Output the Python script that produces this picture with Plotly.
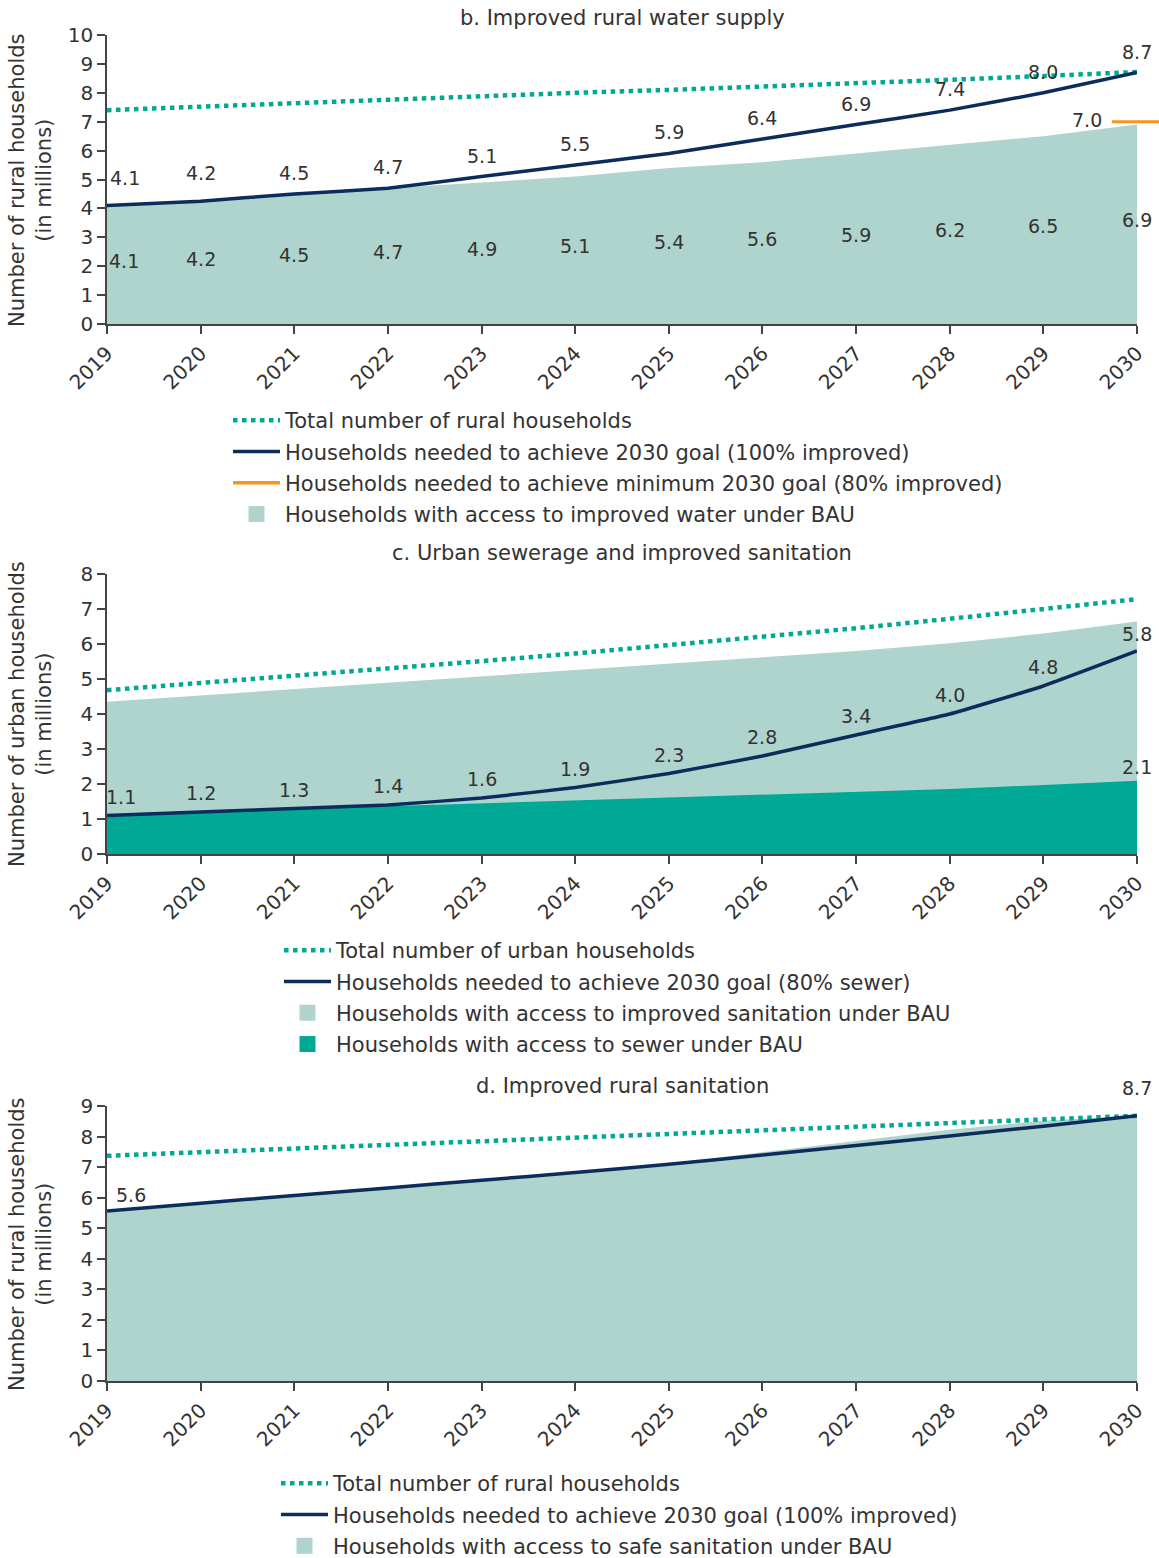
import plotly.graph_objects as go

# ---------------- data ----------------
years = [2019, 2020, 2021, 2022, 2023, 2024, 2025, 2026, 2027, 2028, 2029, 2030]
tick_years = ["2019", "2020", "2021", "2022", "2023", "2024", "2025", "2026", "2027", "2028", "2029", "2030"]

# b. Improved rural water supply
b_total = [7.40, 7.52, 7.65, 7.78, 7.89, 8.00, 8.10, 8.21, 8.33, 8.45, 8.58, 8.72]
b_needed = [4.1, 4.25, 4.5, 4.7, 5.1, 5.5, 5.9, 6.4, 6.9, 7.4, 8.0, 8.7]
b_bau = [4.1, 4.25, 4.5, 4.7, 4.9, 5.1, 5.4, 5.6, 5.9, 6.2, 6.5, 6.9]
b_min_goal_year = [2030]
b_min_goal = [7.0]

# c. Urban sewerage and improved sanitation
c_total = [4.68, 4.88, 5.09, 5.30, 5.51, 5.73, 5.96, 6.20, 6.45, 6.72, 6.99, 7.28]
c_needed = [1.1, 1.2, 1.3, 1.4, 1.6, 1.9, 2.3, 2.8, 3.4, 4.0, 4.8, 5.8]
c_improved_bau = [4.35, 4.53, 4.70, 4.88, 5.06, 5.24, 5.42, 5.60, 5.80, 6.02, 6.30, 6.64]
c_sewer_bau = [1.12, 1.20, 1.28, 1.37, 1.45, 1.53, 1.60, 1.68, 1.77, 1.86, 1.97, 2.09]

# d. Improved rural sanitation
d_total = [7.37, 7.49, 7.61, 7.73, 7.85, 7.96, 8.07, 8.18, 8.30, 8.42, 8.54, 8.68]
d_needed = [5.56, 5.82, 6.07, 6.32, 6.57, 6.82, 7.09, 7.40, 7.71, 8.02, 8.34, 8.68]
d_bau = [5.56, 5.82, 6.07, 6.32, 6.57, 6.83, 7.12, 7.48, 7.86, 8.22, 8.52, 8.68]

# ---------------- styles ----------------
TEAL = "#00A896"
NAVY = "#0C2D5C"
LIGHT = "#AED4CD"
ORANGE = "#F7941D"
TXT = "#333333"
AXC = "#444444"
FONT = "DejaVu Sans"
FS = 21
TICKFS = 20
LABFS = 19

W, H = 1159, 1558
ML, MR = 107, 22
PW = W - ML - MR


def py(pix):
    return 1 - pix / H


def px(pix):
    return (pix - ML) / PW


fig = go.Figure()


def dotted(x, y, xa, ya, name, leg):
    fig.add_trace(go.Scatter(x=x, y=y, xaxis=xa, yaxis=ya, mode="lines", name=name,
                             line=dict(color=TEAL, width=4.5, dash="4.5px,4.5px"),
                             legend=leg, legendrank=1, legendgroup=leg + "a", hoverinfo="skip"))


def solid(x, y, xa, ya, name, leg):
    fig.add_trace(go.Scatter(x=x, y=y, xaxis=xa, yaxis=ya, mode="lines", name=name,
                             line=dict(color=NAVY, width=3.5, shape="spline", smoothing=0.3),
                             legend=leg, legendrank=2, legendgroup=leg + "b", hoverinfo="skip"))


def area(x, y, xa, ya, color):
    fig.add_trace(go.Scatter(x=x, y=y, xaxis=xa, yaxis=ya, mode="lines", fill="tozeroy",
                             fillcolor=color, line=dict(width=0, color=color),
                             showlegend=False, hoverinfo="skip"))


def square_legend(name, color, leg, rank):
    fig.add_trace(go.Scatter(x=[None], y=[None], mode="markers", name=name,
                             marker=dict(symbol="square", size=16, color=color),
                             legend=leg, legendrank=rank, legendgroup=leg + str(rank),
                             xaxis="x", yaxis="y"))


# ----- panel b -----
area(years, b_bau, "x", "y", LIGHT)
dotted(years, b_total, "x", "y", "Total number of rural households", "legend")
solid(years, b_needed, "x", "y", "Households needed to achieve 2030 goal (100% improved)", "legend")
fig.add_trace(go.Scatter(x=b_min_goal_year, y=b_min_goal, xaxis="x", yaxis="y", mode="markers",
                         marker=dict(symbol="line-ew", size=36, line=dict(color=ORANGE, width=3)),
                         cliponaxis=False, showlegend=False, hoverinfo="skip"))
fig.add_trace(go.Scatter(x=[None], y=[None], mode="lines", xaxis="x", yaxis="y",
                         name="Households needed to achieve minimum 2030 goal (80% improved)",
                         line=dict(color=ORANGE, width=3.5), legend="legend", legendrank=3,
                         legendgroup="legend3x"))
square_legend("Households with access to improved water under BAU", LIGHT, "legend", 4)

# ----- panel c -----
area(years, c_improved_bau, "x2", "y2", LIGHT)
area(years, c_sewer_bau, "x2", "y2", TEAL)
dotted(years, c_total, "x2", "y2", "Total number of urban households", "legend2")
solid(years, c_needed, "x2", "y2", "Households needed to achieve 2030 goal (80% sewer)", "legend2")
square_legend("Households with access to improved sanitation under BAU", LIGHT, "legend2", 3)
square_legend("Households with access to sewer under BAU", TEAL, "legend2", 4)

# ----- panel d -----
area(years, d_bau, "x3", "y3", LIGHT)
dotted(years, d_total, "x3", "y3", "Total number of rural households", "legend3")
solid(years, d_needed, "x3", "y3", "Households needed to achieve 2030 goal (100% improved)", "legend3")
square_legend("Households with access to safe sanitation under BAU", LIGHT, "legend3", 3)

# ---------------- annotations ----------------
ann = []


def lab(x, y, text, xr, yr, xshift=0, yshift=0):
    ann.append(dict(x=x, y=y, xref=xr, yref=yr, text=text, showarrow=False,
                    xshift=xshift, yshift=yshift, font=dict(family=FONT, size=LABFS, color=TXT)))


for i, (yr, v) in enumerate(zip(years, b_needed)):
    lab(yr, v, f"{v:.1f}", "x", "y", xshift=18 if i == 0 else 0, yshift=28 if i < 2 else 21)
for i, (yr, v) in enumerate(zip(years, b_bau)):
    lab(yr, v / 2, f"{v:.1f}", "x", "y", xshift=17 if i == 0 else 0, yshift=4)
lab(b_min_goal_year[0], b_min_goal[0], f"{b_min_goal[0]:.1f}", "x", "y", xshift=-50, yshift=2)

for i, (yr, v) in enumerate(zip(years, c_needed)):
    lab(yr, v, f"{v:.1f}", "x2", "y2", xshift=14 if i == 0 else 0, yshift=19 if i < 11 else 17)
lab(years[-1], c_sewer_bau[-1], f"{c_sewer_bau[-1]:.1f}", "x2", "y2", yshift=14)

lab(years[0], d_needed[0], f"{d_needed[0]:.1f}", "x3", "y3", xshift=24, yshift=16)
lab(years[-1], d_needed[-1], f"{d_needed[-1]:.1f}", "x3", "y3", yshift=28)

titles = [("b. Improved rural water supply", 18),
          ("c. Urban sewerage and improved sanitation", 553),
          ("d. Improved rural sanitation", 1086)]
for t, yp in titles:
    ann.append(dict(x=0.5, y=py(yp), xref="paper", yref="paper", text=t, showarrow=False,
                    yanchor="middle", font=dict(family=FONT, size=FS, color=TXT)))

ytitles = [("Number of rural households<br>(in millions)", 180),
           ("Number of urban households<br>(in millions)", 714),
           ("Number of rural households<br>(in millions)", 1244)]
for t, yp in ytitles:
    ann.append(dict(x=px(30), y=py(yp), xref="paper", yref="paper", text=t, showarrow=False,
                    textangle=-90, xanchor="center", yanchor="middle",
                    font=dict(family=FONT, size=FS, color=TXT)))

# ---------------- axes ----------------
xcommon = dict(range=[2019, 2030], tickvals=years, ticktext=tick_years, tickangle=-45,
               ticks="outside", ticklen=8, tickwidth=1.5, tickcolor=AXC,
               showline=True, linecolor=AXC, linewidth=1.5, showgrid=False, zeroline=False,
               tickfont=dict(family=FONT, size=TICKFS, color=TXT), automargin=False)
ycommon = dict(ticks="outside", ticklen=8, tickwidth=1.5, tickcolor=AXC, dtick=1,
               showline=True, linecolor=AXC, linewidth=1.5, showgrid=False, zeroline=False,
               tickfont=dict(family=FONT, size=TICKFS, color=TXT), automargin=False)

legcommon = dict(xanchor="left", yanchor="top", font=dict(family=FONT, size=FS, color=TXT),
                 itemwidth=47, bgcolor="rgba(0,0,0,0)", tracegroupgap=1,
                 traceorder="grouped")

fig.update_layout(
    width=W, height=H,
    margin=dict(l=ML, r=MR, t=0, b=0, autoexpand=False),
    paper_bgcolor="white", plot_bgcolor="white",
    font=dict(family=FONT, size=FS, color=TXT),
    xaxis=dict(**xcommon, domain=[0, 1], anchor="y"),
    yaxis=dict(**ycommon, range=[0, 10], domain=[py(324), py(35)], anchor="x"),
    xaxis2=dict(**xcommon, domain=[0, 1], anchor="y2"),
    yaxis2=dict(**ycommon, range=[0, 8], domain=[py(854), py(574)], anchor="x2"),
    xaxis3=dict(**xcommon, domain=[0, 1], anchor="y3"),
    yaxis3=dict(**ycommon, range=[0, 9], domain=[py(1381), py(1106)], anchor="x3"),
    legend=dict(**legcommon, x=px(228), y=py(400)),
    legend2=dict(**legcommon, x=px(279), y=py(930)),
    legend3=dict(**legcommon, x=px(276), y=py(1463)),
    annotations=ann,
    showlegend=True,
)

fig.write_html("out.html")
